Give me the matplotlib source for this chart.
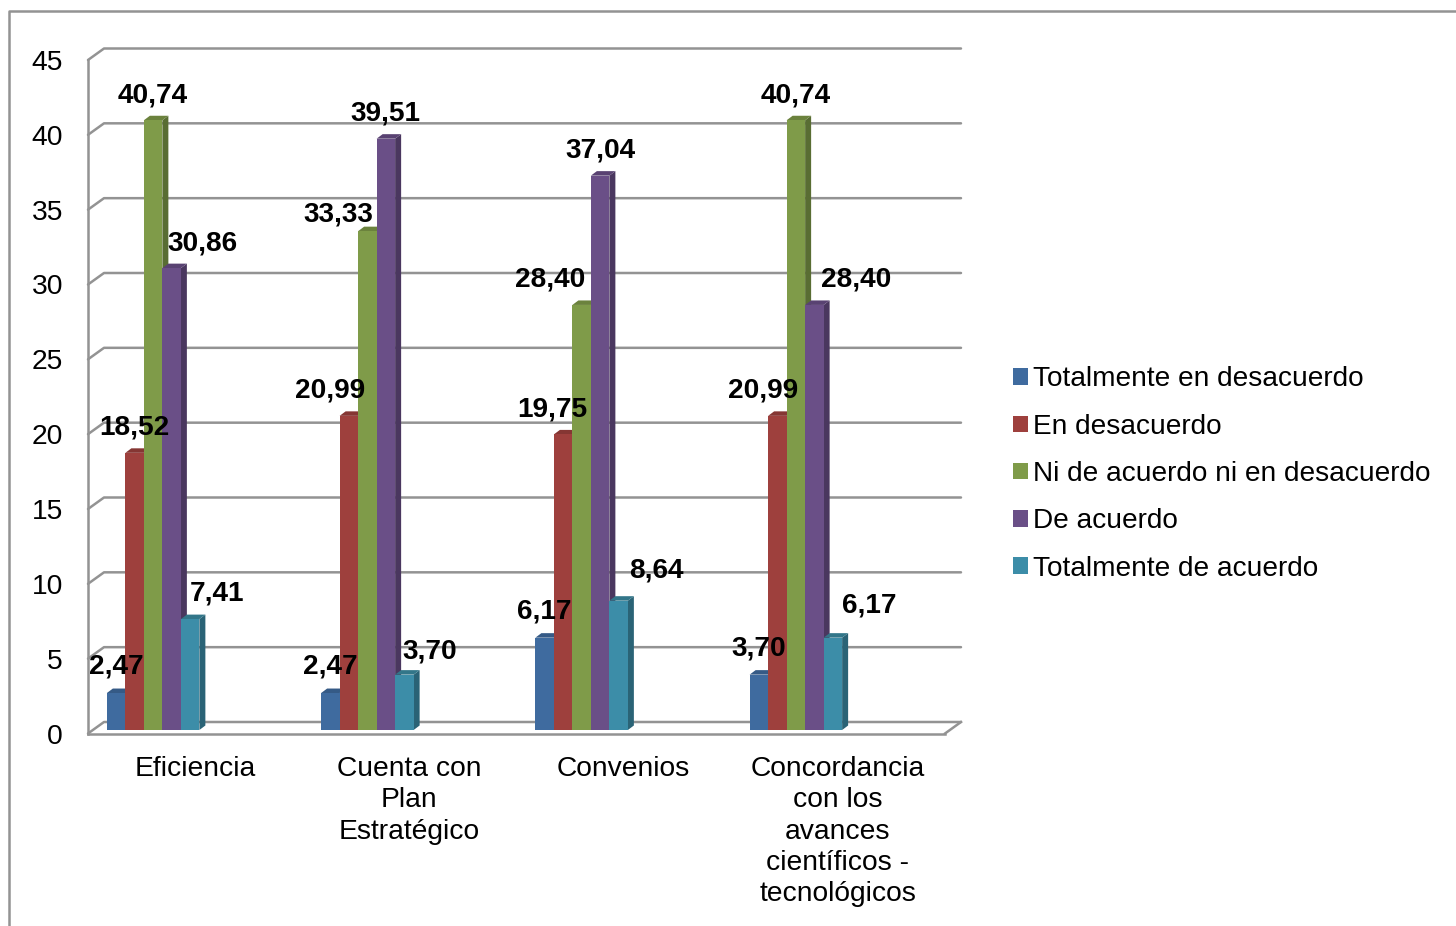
import numpy as np
import matplotlib.pyplot as plt
from matplotlib.lines import Line2D
from matplotlib.patches import Polygon

plt.rcParams['font.family'] = ['Liberation Sans', 'DejaVu Sans']

#%% Data
categorias = ['Eficiencia', 'Cuenta con\nPlan\nEstratégico', 'Convenios',
              'Concordancia\ncon los\navances\ncientíficos -\ntecnológicos']
series = ['Totalmente en desacuerdo', 'En desacuerdo', 'Ni de acuerdo ni en desacuerdo',
          'De acuerdo', 'Totalmente de acuerdo']

totalmente_desacuerdo = [2.47, 2.47, 6.17, 3.70]
en_desacuerdo = [18.52, 20.99, 19.75, 20.99]
ni_ni = [40.74, 33.33, 28.40, 40.74]
de_acuerdo = [30.86, 39.51, 37.04, 28.40]
totalmente_acuerdo = [7.41, 3.70, 8.64, 6.17]
valores = [totalmente_desacuerdo, en_desacuerdo, ni_ni, de_acuerdo, totalmente_acuerdo]

colores = ['#3f6b9f', '#9e403d', '#7f9b49', '#6a4f87', '#3c8da8']
lados = ['#2c4b70', '#6f2d2b', '#596d33', '#4a375f', '#2a6376']
techos = ['#355a86', '#853633', '#6b823d', '#594272', '#327689']

# label offsets from the top centre of each bar, in pixels (series x category)
label_dx = [[0, 0, 0, 0], [0, -19, -11, -14], [0, -29, -32, 0], [31, 0, 0, 42], [27, 25, 38, 36]]
label_dy = [[27, 27, 26, 26], [25.5, 25.5, 25, 25.5], [25, 17, 25.5, 25], [25, 25, 25, 25.5], [26, 23.5, 30.5, 32.5]]

#%% Layout
W, H = 1456, 926
left, right, top, bottom = 88, 945, 60, 733.5
px_x = 4 / (right - left)
px_y = 45 / (bottom - top)

gris = '#939393'
lw = 1.8

fig = plt.figure(figsize=(W / 100, H / 100), dpi=100)
ax = fig.add_axes([left / W, 1 - bottom / H, (right - left) / W, (bottom - top) / H])
ax.set_xlim(0, 4)
ax.set_ylim(0, 45)

#%% Walls
wall_dx = 16 * px_x
wall_dy = 11.5 * px_y
for v in range(0, 50, 5):
    ax.plot([0, wall_dx, 4 + wall_dx], [v, v + wall_dy, v + wall_dy], color=gris, lw=lw,
            clip_on=False, zorder=1, solid_capstyle='round')
ax.plot([4, 4 + wall_dx], [0, wall_dy], color=gris, lw=lw, clip_on=False, zorder=1)

#%% Bars
x = np.arange(4) + 0.5
shift = -42 * px_x
width = 18.5 * px_x
base = 3.5 * px_y
side_dx = 6 * px_x
side_dy = 4.5 * px_y

handles = []
for s in range(5):
    xs = x + shift + (s - 2) * width
    z = 3 + s
    bars = ax.bar(xs, valores[s], width=width, bottom=base, color=colores[s], label=series[s],
                  zorder=z + 0.5, clip_on=False)
    handles.append(bars)
    for xc, v in zip(xs, valores[s]):
        x0, x1 = xc - width / 2, xc + width / 2
        y1 = base + v
        ax.add_patch(Polygon([(x1, base), (x1 + side_dx, base + side_dy),
                              (x1 + side_dx, y1 + side_dy), (x1, y1)],
                             facecolor=lados[s], edgecolor='none', zorder=z, clip_on=False))
        ax.add_patch(Polygon([(x0, y1), (x0 + side_dx, y1 + side_dy),
                              (x1 + side_dx, y1 + side_dy), (x1, y1)],
                             facecolor=techos[s], edgecolor='none', zorder=z, clip_on=False))

#%% Value labels
for s in range(5):
    xs = x + shift + (s - 2) * width
    for g in range(4):
        v = valores[s][g]
        ax.annotate(f'{v:.2f}'.replace('.', ','), (xs[g], base + v),
                    xytext=(label_dx[s][g] * 0.72, label_dy[s][g] * 0.72),
                    textcoords='offset points', ha='center', va='center',
                    fontsize=20.2, fontweight='bold', color='black', zorder=20,
                    annotation_clip=False)

#%% Axes
ax.set_xticks(x)
ax.set_xticklabels(categorias, linespacing=1.27)
ax.set_yticks(range(0, 50, 5))
ax.tick_params(axis='y', length=0, pad=18, labelsize=20.3)
ax.tick_params(axis='x', length=0, pad=16, labelsize=20.3)
for name in ['top', 'right']:
    ax.spines[name].set_visible(False)
for name in ['left', 'bottom']:
    ax.spines[name].set_color(gris)
    ax.spines[name].set_linewidth(lw)
ax.patch.set_alpha(0)

fig.legend(handles=handles, labels=series, loc='center left', bbox_to_anchor=(1013 / W, 1 - 474 / H),
           frameon=False, fontsize=20.15, handlelength=0.53, handleheight=0.53,
           handletextpad=0.2, labelspacing=0.76, borderpad=0, borderaxespad=0)

#%% Outer frame
fig.add_artist(Line2D([8.5 / W, 8.5 / W, 1], [0, 1 - 10.5 / H, 1 - 10.5 / H], color=gris, lw=lw))

plt.savefig('out.png', dpi=100)
